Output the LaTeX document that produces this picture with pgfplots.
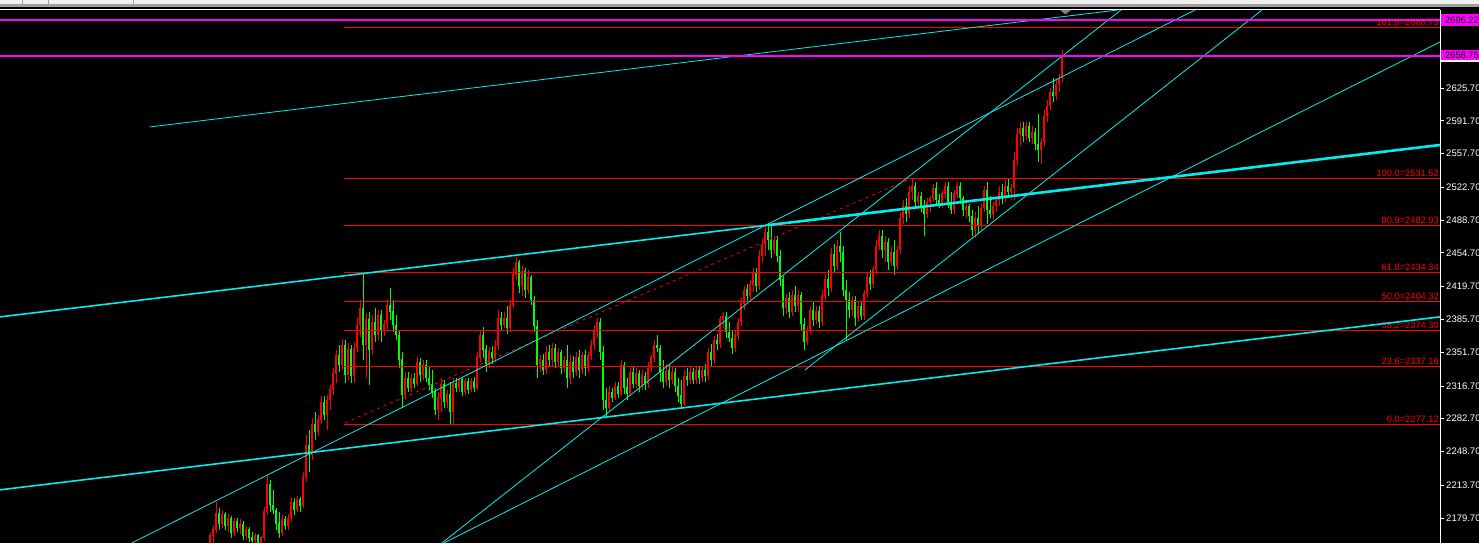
\documentclass[border=0pt]{standalone}
\usepackage{pgfplots}
\pgfplotsset{compat=1.18}
\usepackage{pgfplotstable}
\usepackage{fontspec}
\setmainfont{Liberation Sans}

\definecolor{upred}{RGB}{255,0,0}
\definecolor{dnlime}{RGB}{0,255,0}
\definecolor{trend}{RGB}{0,238,238}
\definecolor{fib}{RGB}{255,0,0}
\definecolor{quote}{RGB}{255,0,255}
\definecolor{chrome}{RGB}{240,240,240}
\definecolor{chromedark}{RGB}{160,160,160}

% bar time index (chart pixels), open, high, low, close
\pgfplotstableread{
x o h l c
210 2153.9 2164.3 2148.7 2161.2
213 2161.2 2171.5 2151.8 2167.4
216 2167.4 2196.4 2164.3 2184.0
219 2184.0 2190.2 2167.4 2173.6
222 2173.6 2188.1 2169.5 2183.0
225 2183.0 2186.1 2167.4 2171.5
228 2171.5 2184.0 2165.3 2179.8
231 2179.8 2181.9 2159.1 2164.3
234 2164.3 2179.8 2161.2 2175.7
237 2175.7 2179.8 2165.3 2169.5
240 2169.5 2178.8 2163.2 2173.6
243 2173.6 2176.7 2157.0 2161.2
246 2161.2 2171.5 2157.0 2168.4
249 2168.4 2170.5 2155.0 2159.1
252 2159.1 2165.3 2150.8 2156.0
255 2156.0 2164.3 2150.8 2161.2
258 2161.2 2163.2 2148.7 2152.9
261 2152.9 2161.2 2148.7 2159.1
264 2159.1 2191.2 2156.0 2186.1
267 2186.1 2224.4 2183.0 2214.1
270 2214.1 2219.2 2186.1 2193.3
273 2193.3 2208.9 2184.0 2188.1
276 2188.1 2190.2 2167.4 2173.6
279 2173.6 2186.1 2159.1 2164.3
282 2164.3 2183.0 2161.2 2177.8
285 2177.8 2181.9 2167.4 2171.5
288 2171.5 2184.0 2167.4 2179.8
291 2179.8 2201.6 2175.7 2196.4
294 2196.4 2200.6 2183.0 2188.1
297 2188.1 2202.6 2186.1 2198.5
300 2198.5 2201.6 2186.1 2192.3
303 2192.3 2227.5 2190.2 2221.3
306 2221.3 2265.9 2217.2 2255.5
309 2255.5 2271.1 2227.5 2245.2
312 2245.2 2283.5 2240.0 2276.3
315 2276.3 2289.7 2260.7 2269.0
318 2269.0 2286.6 2264.9 2281.5
321 2281.5 2306.4 2277.3 2300.1
324 2300.1 2306.4 2281.5 2286.6
327 2286.6 2307.4 2271.1 2302.2
330 2302.2 2317.8 2291.8 2312.6
333 2312.6 2335.4 2307.4 2329.2
336 2329.2 2354.1 2319.8 2347.9
339 2347.9 2359.2 2331.2 2338.5
342 2338.5 2365.5 2333.3 2359.2
345 2359.2 2364.4 2319.8 2328.1
348 2328.1 2361.3 2323.0 2354.1
351 2354.1 2359.2 2319.8 2327.1
354 2327.1 2362.4 2319.8 2356.1
357 2356.1 2387.2 2352.0 2380.0
360 2380.0 2405.9 2367.5 2397.6
363 2397.6 2434.3 2343.7 2359.2
366 2359.2 2392.4 2325.0 2385.2
369 2385.2 2393.5 2317.8 2354.1
372 2354.1 2390.3 2348.9 2383.1
375 2383.1 2397.6 2362.4 2369.6
378 2369.6 2395.5 2364.4 2390.3
381 2390.3 2395.5 2362.4 2374.8
384 2374.8 2385.2 2368.6 2381.0
387 2381.0 2405.9 2374.8 2400.7
390 2400.7 2418.4 2385.2 2393.5
393 2393.5 2405.9 2372.7 2380.0
396 2380.0 2390.3 2364.4 2369.6
399 2369.6 2374.8 2335.4 2343.7
402 2343.7 2352.0 2293.9 2307.4
405 2307.4 2331.2 2302.2 2325.0
408 2325.0 2331.2 2310.5 2314.7
411 2314.7 2329.2 2310.5 2325.0
414 2325.0 2330.2 2314.7 2318.8
417 2318.8 2346.8 2316.7 2341.6
420 2341.6 2345.8 2320.9 2328.1
423 2328.1 2343.7 2323.0 2338.5
426 2338.5 2343.7 2320.9 2325.0
429 2325.0 2337.5 2312.6 2317.8
432 2317.8 2333.3 2304.3 2309.5
435 2309.5 2314.7 2286.6 2291.8
438 2291.8 2310.5 2281.5 2304.3
441 2304.3 2325.0 2289.7 2318.8
444 2318.8 2323.0 2293.9 2300.1
447 2300.1 2312.6 2293.9 2308.4
450 2308.4 2320.9 2277.3 2289.7
453 2289.7 2325.0 2277.1 2319.8
456 2319.8 2325.0 2310.5 2314.7
459 2314.7 2326.1 2310.5 2323.0
462 2323.0 2326.1 2306.4 2310.5
465 2310.5 2325.0 2307.4 2320.9
468 2320.9 2325.0 2308.4 2312.6
471 2312.6 2325.0 2310.5 2321.9
474 2321.9 2326.1 2310.5 2314.7
477 2314.7 2352.0 2312.6 2345.8
480 2345.8 2374.8 2341.6 2368.6
483 2368.6 2377.9 2345.8 2354.1
486 2354.1 2359.2 2331.2 2339.5
489 2339.5 2357.2 2335.4 2352.0
492 2352.0 2358.2 2339.5 2345.8
495 2345.8 2364.4 2341.6 2358.2
498 2358.2 2395.5 2354.1 2387.2
501 2387.2 2393.5 2374.8 2380.0
504 2380.0 2393.5 2376.9 2387.2
507 2387.2 2399.7 2370.6 2376.9
510 2376.9 2405.9 2372.7 2400.7
513 2400.7 2439.1 2397.6 2431.9
516 2431.9 2450.5 2426.7 2445.3
519 2445.3 2447.4 2413.2 2420.5
522 2420.5 2441.2 2410.1 2435.0
525 2435.0 2439.1 2408.0 2416.3
528 2416.3 2437.1 2412.2 2428.8
531 2428.8 2431.9 2400.7 2405.9
534 2405.9 2410.1 2372.7 2378.9
537 2378.9 2385.2 2325.0 2338.5
540 2338.5 2348.9 2331.2 2343.7
543 2343.7 2349.9 2328.1 2333.3
546 2333.3 2358.2 2329.2 2352.0
549 2352.0 2359.2 2337.5 2343.7
552 2343.7 2361.3 2337.5 2356.1
555 2356.1 2360.3 2335.4 2341.6
558 2341.6 2356.1 2337.5 2352.0
561 2352.0 2354.1 2329.2 2335.4
564 2335.4 2347.9 2331.2 2343.7
567 2343.7 2359.2 2314.7 2325.0
570 2325.0 2348.9 2318.8 2341.6
573 2341.6 2347.9 2325.0 2331.2
576 2331.2 2352.0 2327.1 2345.8
579 2345.8 2354.1 2325.0 2333.3
582 2333.3 2352.0 2329.2 2347.9
585 2347.9 2354.1 2327.1 2335.4
588 2335.4 2352.0 2331.2 2347.9
591 2347.9 2364.4 2343.7 2359.2
594 2359.2 2380.0 2354.1 2374.8
597 2374.8 2387.2 2366.5 2383.1
600 2383.1 2387.2 2343.7 2352.0
603 2352.0 2358.2 2291.8 2302.2
606 2302.2 2314.7 2285.6 2293.9
609 2293.9 2316.7 2289.7 2310.5
612 2310.5 2314.7 2300.1 2304.3
615 2304.3 2320.9 2302.2 2316.7
618 2316.7 2320.9 2304.3 2308.4
621 2308.4 2343.7 2306.4 2337.5
624 2337.5 2341.6 2308.4 2314.7
627 2314.7 2325.0 2302.2 2308.4
630 2308.4 2335.4 2306.4 2331.2
633 2331.2 2337.5 2314.7 2318.8
636 2318.8 2335.4 2314.7 2329.2
639 2329.2 2333.3 2310.5 2316.7
642 2316.7 2333.3 2312.6 2327.1
645 2327.1 2331.2 2312.6 2318.8
648 2318.8 2341.6 2314.7 2335.4
651 2335.4 2349.9 2331.2 2345.8
654 2345.8 2364.4 2341.6 2359.2
657 2359.2 2369.6 2352.0 2356.1
660 2356.1 2359.2 2320.9 2331.2
663 2331.2 2343.7 2314.7 2320.9
666 2320.9 2339.5 2316.7 2333.3
669 2333.3 2339.5 2314.7 2323.0
672 2323.0 2337.5 2318.8 2331.2
675 2331.2 2335.4 2310.5 2316.7
678 2316.7 2325.0 2300.1 2306.4
681 2306.4 2323.0 2293.9 2298.1
684 2298.1 2333.3 2296.0 2327.1
687 2327.1 2335.4 2316.7 2323.0
690 2323.0 2337.5 2318.8 2331.2
693 2331.2 2335.4 2318.8 2323.0
696 2323.0 2337.5 2318.8 2333.3
699 2333.3 2337.5 2318.8 2325.0
702 2325.0 2337.5 2320.9 2333.3
705 2333.3 2339.5 2320.9 2327.1
708 2327.1 2356.1 2323.0 2352.0
711 2352.0 2360.3 2337.5 2343.7
714 2343.7 2368.6 2339.5 2364.4
717 2364.4 2370.6 2354.1 2360.3
720 2360.3 2389.3 2356.1 2385.2
723 2385.2 2393.5 2376.9 2389.3
726 2389.3 2393.5 2366.5 2372.7
729 2372.7 2383.1 2362.4 2366.5
732 2366.5 2374.8 2349.9 2356.1
735 2356.1 2374.8 2352.0 2368.6
738 2368.6 2387.2 2364.4 2383.1
741 2383.1 2408.0 2378.9 2401.8
744 2401.8 2420.5 2395.5 2416.3
747 2416.3 2422.6 2403.8 2410.1
750 2410.1 2426.7 2405.9 2421.5
753 2421.5 2439.1 2414.3 2432.9
756 2432.9 2439.1 2414.3 2420.5
759 2420.5 2457.7 2416.3 2451.5
762 2451.5 2470.2 2445.3 2464.0
765 2464.0 2482.6 2451.5 2476.4
768 2476.4 2485.7 2457.7 2468.1
771 2468.1 2483.7 2449.5 2457.7
774 2457.7 2472.3 2453.6 2468.1
777 2468.1 2472.3 2445.3 2451.5
780 2451.5 2457.7 2420.5 2426.7
783 2426.7 2430.8 2389.3 2397.6
786 2397.6 2412.2 2391.4 2408.0
789 2408.0 2414.3 2387.2 2393.5
792 2393.5 2416.3 2389.3 2411.1
795 2411.1 2420.5 2393.5 2399.7
798 2399.7 2416.3 2393.5 2410.1
801 2410.1 2414.3 2374.8 2381.0
804 2381.0 2387.2 2354.1 2362.4
807 2362.4 2378.9 2359.2 2374.8
810 2374.8 2399.7 2370.6 2395.5
813 2395.5 2403.8 2378.9 2385.2
816 2385.2 2399.7 2381.0 2393.5
819 2393.5 2399.7 2376.9 2383.1
822 2383.1 2416.3 2378.9 2410.1
825 2410.1 2432.9 2405.9 2426.7
828 2426.7 2437.1 2410.1 2418.4
831 2418.4 2459.8 2414.3 2453.6
834 2453.6 2464.0 2435.0 2441.2
837 2441.2 2468.1 2437.1 2461.9
840 2461.9 2476.4 2445.3 2455.7
843 2455.7 2461.9 2410.1 2416.3
846 2416.3 2426.7 2364.4 2405.9
849 2405.9 2414.3 2387.2 2395.5
852 2395.5 2410.1 2389.3 2405.9
855 2405.9 2410.1 2378.9 2387.2
858 2387.2 2403.8 2383.1 2399.7
861 2399.7 2403.8 2385.2 2389.3
864 2389.3 2416.3 2385.2 2412.2
867 2412.2 2435.0 2408.0 2428.8
870 2428.8 2437.1 2416.3 2422.6
873 2422.6 2441.2 2418.4 2437.1
876 2437.1 2468.1 2432.9 2461.9
879 2461.9 2478.5 2457.7 2472.3
882 2472.3 2478.5 2449.5 2457.7
885 2457.7 2472.3 2445.3 2466.0
888 2466.0 2470.2 2437.1 2445.3
891 2445.3 2461.9 2441.2 2455.7
894 2455.7 2468.1 2431.9 2441.2
897 2441.2 2461.9 2437.1 2457.7
900 2457.7 2497.2 2453.6 2490.9
903 2490.9 2509.6 2484.7 2503.4
906 2503.4 2511.7 2486.8 2495.1
909 2495.1 2524.1 2490.9 2517.9
912 2517.9 2531.5 2509.6 2524.1
915 2524.1 2528.3 2501.3 2507.5
918 2507.5 2517.9 2499.2 2513.8
921 2513.8 2517.9 2497.2 2501.3
924 2501.3 2509.6 2472.3 2495.1
927 2495.1 2511.7 2490.9 2507.5
930 2507.5 2513.8 2497.2 2511.7
933 2511.7 2526.2 2507.5 2522.1
936 2522.1 2528.3 2505.5 2509.6
939 2509.6 2515.9 2501.3 2505.5
942 2505.5 2520.0 2501.3 2515.9
945 2515.9 2528.3 2511.7 2524.1
948 2524.1 2528.3 2501.3 2507.5
951 2507.5 2517.9 2495.1 2499.2
954 2499.2 2520.0 2495.1 2515.9
957 2515.9 2528.3 2511.7 2524.1
960 2524.1 2528.3 2505.5 2511.7
963 2511.7 2513.8 2493.0 2499.2
966 2499.2 2507.5 2490.9 2503.4
969 2503.4 2505.5 2486.8 2493.0
972 2493.0 2499.2 2472.3 2478.5
975 2478.5 2497.2 2470.2 2490.9
978 2490.9 2503.4 2474.3 2482.6
981 2482.6 2505.5 2478.5 2501.3
984 2501.3 2524.1 2497.2 2520.0
987 2520.0 2528.3 2484.7 2499.2
990 2499.2 2513.8 2490.9 2495.1
993 2495.1 2507.5 2488.9 2503.4
996 2503.4 2513.8 2497.2 2509.6
999 2509.6 2524.1 2503.4 2517.9
1002 2517.9 2526.2 2505.5 2511.7
1005 2511.7 2530.3 2507.5 2524.1
1008 2524.1 2532.4 2511.7 2517.9
1011 2517.9 2526.2 2509.6 2522.1
1014 2522.1 2559.4 2509.6 2551.1
1017 2551.1 2584.3 2544.9 2578.0
1020 2578.0 2590.5 2565.6 2584.3
1023 2584.3 2590.5 2569.7 2576.0
1026 2576.0 2590.5 2571.8 2586.3
1029 2586.3 2590.5 2569.7 2573.9
1032 2573.9 2586.3 2567.7 2580.1
1035 2580.1 2584.3 2561.5 2567.7
1038 2567.7 2598.8 2549.0 2561.5
1041 2561.5 2573.9 2546.9 2569.7
1044 2569.7 2602.9 2565.6 2596.7
1047 2596.7 2613.3 2590.5 2607.1
1050 2607.1 2625.7 2602.9 2621.6
1053 2621.6 2636.1 2611.2 2617.4
1056 2617.4 2634.0 2613.3 2629.9
1059 2629.9 2640.3 2621.6 2636.1
1062 2636.1 2665.2 2632.0 2658.75
}\bars

\pgfplotsset{
  candle/.style n args={3}{
    draw=none, mark=none, forget plot,
    restrict expr to domain={\thisrow{c}-\thisrow{o}}{#1},
    error bars/.cd, y dir=both, y explicit, error mark=none,
    error bar style={draw=#2, line width=#3},
  },
  trendline/.style={trend, line width=0.8pt, mark=none, forget plot},
  fibline/.style={fib, line width=#1, mark=none, forget plot},
}
\tikzset{
  fiblabel/.style={anchor=south east, text=fib, inner sep=0pt, yshift=1.6pt,
    font=\fontsize{9.3}{10}\selectfont},
  pricetag/.style={fill=quote, text=black, anchor=west, inner xsep=4.5pt,
    inner ysep=0pt, minimum width=42pt, font=\fontsize{9.3}{10}\selectfont},
}

\begin{document}
\begin{tikzpicture}[x=1pt,y=1pt]
\useasboundingbox (0,0) rectangle (1479,543);
% terminal window: black chart, toolbar strip on top
\fill[black] (0,0) rectangle (1479,543);
\fill[chrome] (0,538.7) rectangle (1479,543);
\fill[chromedark] (0,536.3) rectangle (1479,538.7);
\draw[chromedark, line width=0.6pt] (22,538.7) -- (22,543) (48,538.7) -- (48,543) (133,538.7) -- (133,543);
\draw[white, line width=1pt] (0,533.5) -- (1440,533.5);

\begin{axis}[
  at={(0,0)}, anchor=south west,
  scale only axis, width=1440pt, height=533pt,
  xmin=0, xmax=1440, ymin=2153.77, ymax=2706.6,
  hide x axis,
  axis y line*=right,
  y axis line style={white, line width=1pt, -},
  ytick={2179.7,2213.7,2248.7,2282.7,2316.7,2351.7,2385.7,2419.7,2454.7,2488.7,2522.7,2557.7,2591.7,2625.7},
  yticklabels={2179.70,2213.70,2248.70,2282.70,2316.70,2351.70,2385.70,2419.70,2454.70,2488.70,2522.70,2557.70,2591.70,2625.70},
  tick align=outside, major tick length=4pt,
  ytick style={white, line width=0.8pt},
  yticklabel style={text=white, inner sep=0pt, xshift=2pt, font=\fontsize{9.5}{10}\selectfont},
  clip mode=individual,
]

% candles: wicks first, then bodies (red = rising, lime = falling)
\addplot[candle={0:10000}{upred}{1pt}] table[x=x, y expr={(\thisrow{h}+\thisrow{l})/2}, y error expr={(\thisrow{h}-\thisrow{l})/2}] {\bars};
\addplot[candle={-10000:-0.001}{dnlime}{1pt}] table[x=x, y expr={(\thisrow{h}+\thisrow{l})/2}, y error expr={(\thisrow{h}-\thisrow{l})/2}] {\bars};
\addplot[candle={0:10000}{upred}{2.6pt}] table[x=x, y expr={(\thisrow{o}+\thisrow{c})/2}, y error expr={abs(\thisrow{c}-\thisrow{o})/2+0.4}] {\bars};
\addplot[candle={-10000:-0.001}{dnlime}{2.6pt}] table[x=x, y expr={(\thisrow{o}+\thisrow{c})/2}, y error expr={abs(\thisrow{c}-\thisrow{o})/2+0.4}] {\bars};

% Fibonacci retracement 2277.12 -> 2531.52
\addplot[fibline=0.8pt] coordinates {(344,2688.73) (1440,2688.73)};
\addplot[fibline=0.8pt] coordinates {(344,2531.52) (1440,2531.52)};
\addplot[fibline=0.8pt] coordinates {(344,2482.93) (1440,2482.93)};
\addplot[fibline=1.3pt] coordinates {(344,2434.34) (1440,2434.34)};
\addplot[fibline=0.8pt] coordinates {(344,2404.32) (1440,2404.32)};
\addplot[fibline=1.3pt] coordinates {(344,2374.30) (1440,2374.30)};
\addplot[fibline=1.3pt] coordinates {(344,2337.16) (1440,2337.16)};
\addplot[fibline=0.8pt] coordinates {(344,2277.12) (1440,2277.12)};
\addplot[fib, line width=0.8pt, dash pattern=on 3pt off 4pt, forget plot] coordinates {(345,2278.4) (910,2531.4)};

\node[fiblabel] at (axis cs:1439,2688.73) {161.8=2688.73};
\node[fiblabel] at (axis cs:1439,2531.52) {100.0=2531.52};
\node[fiblabel] at (axis cs:1439,2482.93) {80.9=2482.93};
\node[fiblabel] at (axis cs:1439,2434.34) {61.8=2434.34};
\node[fiblabel] at (axis cs:1439,2404.32) {50.0=2404.32};
\node[fiblabel] at (axis cs:1439,2374.30) {38.2=2374.30};
\node[fiblabel] at (axis cs:1439,2337.16) {23.6=2337.16};
\node[fiblabel] at (axis cs:1439,2277.12) {0.0=2277.12};

% trend lines and channels
\addplot[trendline, line width=1.6pt] coordinates {(0,2388.3) (770,2483.7)};
\addplot[trendline, line width=2.6pt] coordinates {(770,2483.7) (1440,2566.6)};
\addplot[trendline, line width=1.6pt] coordinates {(0,2208.9) (1440,2388.3)};
\addplot[trendline] coordinates {(150,2585.3) (1118,2706.6)};
\addplot[trendline] coordinates {(132,2153.9) (1195,2706.6)};
\addplot[trendline] coordinates {(442,2153.9) (1121,2706.6)};
\addplot[trendline] coordinates {(805,2333.3) (1262,2706.6)};
\addplot[trendline] coordinates {(444,2153.9) (1440,2673.4)};

% bid / ask lines
\addplot[quote, line width=2pt, forget plot] coordinates {(0,2696.22) (1440,2696.22)};
\addplot[quote, line width=2pt, forget plot] coordinates {(0,2658.75) (1440,2658.75)};
\node[pricetag, minimum height=11.5pt] at (axis cs:1440.5,2696.22) {2696.22};
\node[pricetag, minimum height=10pt] at (axis cs:1440.5,2659.6) {2658.75};
\fill[white] (axis cs:1441,2652.6) rectangle (axis cs:1479,2654.6);

% chart shift marker
\fill[gray] (axis cs:1060,2706.6) -- (axis cs:1071,2706.6) -- (axis cs:1065.5,2702.0) -- cycle;
\end{axis}
\end{tikzpicture}
\end{document}
